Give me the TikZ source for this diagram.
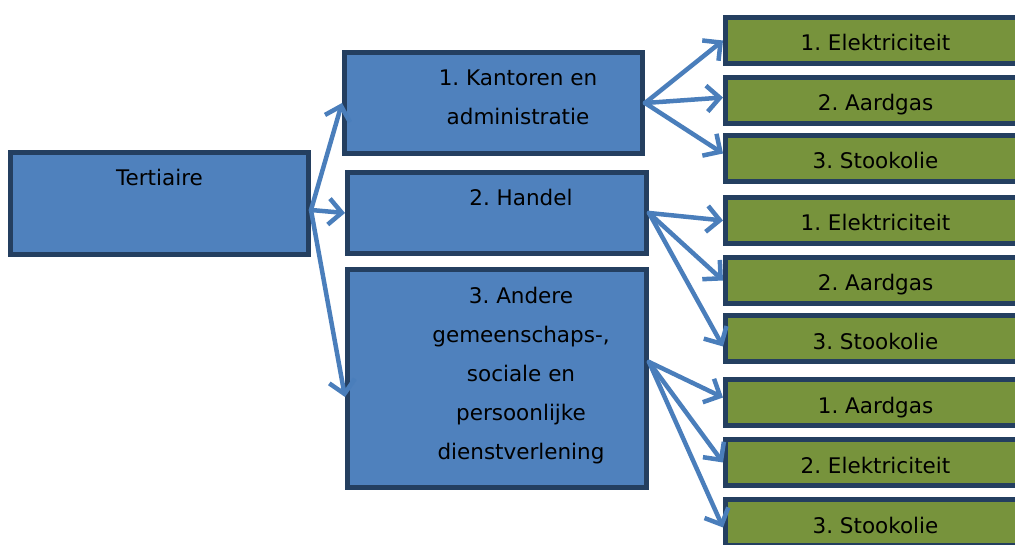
\documentclass[tikz,border=0pt]{standalone}
\usepackage{fontspec}
\setmainfont{DejaVu Sans}
\usepackage{xcolor}
\usepackage{tikz}
\usetikzlibrary{arrows.meta,positioning}
\definecolor{sectorblue}{RGB}{79, 129, 189}
\definecolor{carriergreen}{RGB}{119, 147, 60}
\definecolor{frameblue}{RGB}{36, 63, 96}
\definecolor{arrowblue}{RGB}{74, 126, 187}
\frenchspacing

\begin{document}
\begin{tikzpicture}[
    x=1pt, y=-1pt,
    bluebox/.style={rectangle, draw=frameblue, line width=5pt, fill=sectorblue, minimum width=298pt},
    greenbox/.style={rectangle, draw=frameblue, line width=5pt, fill=carriergreen, minimum width=300pt, minimum height=46pt},
    boxtext/.style={anchor=base, align=center, inner sep=0pt, font=\fontsize{21.5}{39}\selectfont},
    arrow/.style={-{Straight Barb[length=13pt,width=26pt]}, line width=4.5pt, draw=arrowblue, line cap=round}
]
    \useasboundingbox (0,0) rectangle (1015,545);
    \clip (0,0) rectangle (1015,545);

    % sector
    \node[bluebox, minimum height=102pt] (tert) at (159.5,203.5) {};
    \node[boxtext] (tert-txt) at ([yshift=-36pt]tert.north) {Tertiaire};

    % sub-sectors (base = last line)
    \node[bluebox, minimum height=101pt] (kant) at (493.5,103) {};
    \node[boxtext] (kant-txt) at ([xshift=24.5pt,yshift=-75pt]kant.north) {1. Kantoren en\\administratie};

    \node[bluebox, minimum width=299pt, minimum height=81pt] (handel) at (497,213) {};
    \node[boxtext] (handel-txt) at ([xshift=24pt,yshift=-36pt]handel.north) {2. Handel};

    \node[bluebox, minimum width=299pt, minimum height=218pt] (andere) at (497,378.5) {};
    \node[boxtext] (andere-txt) at ([xshift=24pt,yshift=-192pt]andere.north) {3. Andere\\gemeenschaps-,\\sociale en\\persoonlijke\\dienstverlening};

    % energy carriers
    \node[greenbox] (kant-el) at (875.5,40.5) {};
    \node[boxtext] (kant-el-txt) at ([yshift=-36pt]kant-el.north) {1. Elektriciteit};
    \node[greenbox] (kant-gas) at (875.5,100.5) {};
    \node[boxtext] (kant-gas-txt) at ([yshift=-36pt]kant-gas.north) {2. Aardgas};
    \node[greenbox] (kant-olie) at (875.5,158.5) {};
    \node[boxtext] (kant-olie-txt) at ([yshift=-36pt]kant-olie.north) {3. Stookolie};

    \node[greenbox] (handel-el) at (875.5,220.5) {};
    \node[boxtext] (handel-el-txt) at ([yshift=-36pt]handel-el.north) {1. Elektriciteit};
    \node[greenbox] (handel-gas) at (875.5,280.5) {};
    \node[boxtext] (handel-gas-txt) at ([yshift=-36pt]handel-gas.north) {2. Aardgas};
    \node[greenbox] (handel-olie) at (875.5,338.5) {};
    \node[boxtext] (handel-olie-txt) at ([yshift=-36pt]handel-olie.north) {3. Stookolie};

    \node[greenbox] (andere-gas) at (875.5,402.5) {};
    \node[boxtext] (andere-gas-txt) at ([yshift=-36pt]andere-gas.north) {1. Aardgas};
    \node[greenbox] (andere-el) at (875.5,462.5) {};
    \node[boxtext] (andere-el-txt) at ([yshift=-36pt]andere-el.north) {2. Elektriciteit};
    \node[greenbox] (andere-olie) at (875.5,522.5) {};
    \node[boxtext] (andere-olie-txt) at ([yshift=-36pt]andere-olie.north) {3. Stookolie};

    % arrows
    \draw[arrow] ([yshift=-6.5pt]tert.east) -- (kant.west);
    \draw[arrow] ([yshift=-6.5pt]tert.east) -- (handel.west);
    \draw[arrow] ([yshift=-6.5pt]tert.east) -- ([yshift=-18.5pt]andere.west);

    \draw[arrow] (kant.east) -- (kant-el.west);
    \draw[arrow] (kant.east) -- ([yshift=3pt]kant-gas.west);
    \draw[arrow] (kant.east) -- ([yshift=5pt]kant-olie.west);

    \draw[arrow] (handel.east) -- (handel-el.west);
    \draw[arrow] (handel.east) -- (handel-gas.west);
    \draw[arrow] (handel.east) -- ([yshift=-8pt]handel-olie.west);

    \draw[arrow] ([yshift=16.5pt]andere.east) -- ([yshift=5pt]andere-gas.west);
    \draw[arrow] ([yshift=16.5pt]andere.east) -- (andere-el.west);
    \draw[arrow] ([yshift=16.5pt]andere.east) -- ([yshift=-5pt]andere-olie.west);
\end{tikzpicture}
\end{document}
